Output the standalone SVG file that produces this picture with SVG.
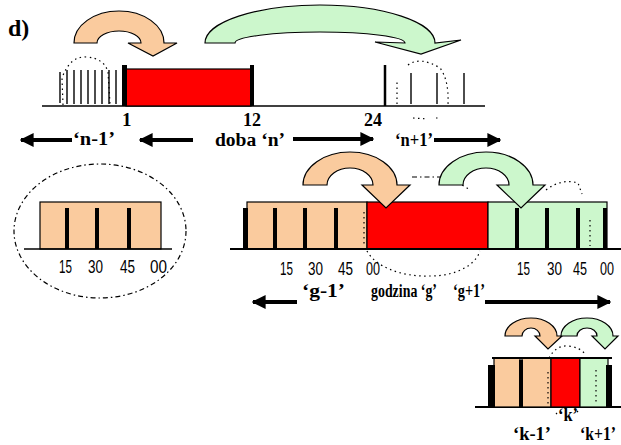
<svg xmlns="http://www.w3.org/2000/svg" width="621" height="445" viewBox="0 0 621 445">
<defs>
<style>
.or{fill:#FACB9E;stroke:#000;stroke-width:1.2}
.gr{fill:#CCF7CC;stroke:#000;stroke-width:1.2}
.rd{fill:#FF0000;stroke:#000;stroke-width:1.2}
.bk{fill:#000}
.ln{stroke:#000;stroke-width:1.5;fill:none}
.tk{stroke:#000;stroke-width:1.4}
.dot{stroke:#000;stroke-width:1.2;fill:none;stroke-dasharray:1.5,3.5}
.dd{stroke:#000;stroke-width:1.2;fill:none;stroke-dasharray:5,3,1.5,3}
.ar{stroke:#000;stroke-width:4;fill:none}
.t{font-family:"Liberation Serif","Times New Roman",serif;font-weight:bold;font-size:18px;fill:#000}
.n{font-family:"Liberation Sans Narrow","Liberation Sans",Arial,sans-serif;font-size:19px;fill:#000}
</style>
<marker id="ah" viewBox="0 0 10 10" refX="9" refY="5" markerWidth="14" markerHeight="14" markerUnits="userSpaceOnUse" orient="auto"><path d="M0,0 L10,5 L0,10 Z" fill="#000"/></marker>
</defs>
<text class="t" x="8" y="36" style="font-size:24px">d)</text>
<g id="top-timeline">
<line class="ln" x1="42" y1="106" x2="485" y2="106"/>
<rect class="rd" x="126" y="69" width="125" height="37"/>
<rect class="bk" x="122" y="65" width="5" height="41"/>
<rect class="bk" x="250" y="65" width="4" height="41"/>
<g class="tk">
<line x1="60" y1="72" x2="60" y2="103"/><line x1="67" y1="70" x2="67" y2="104"/><line x1="74" y1="70" x2="74" y2="104"/><line x1="81" y1="70" x2="81" y2="104"/><line x1="88" y1="70" x2="88" y2="104"/><line x1="95" y1="70" x2="95" y2="104"/><line x1="102" y1="70" x2="102" y2="104"/><line x1="109" y1="70" x2="109" y2="104"/><line x1="116" y1="70" x2="116" y2="104"/>
</g>
<line x1="385" y1="65" x2="385" y2="106" stroke="#000" stroke-width="2.5"/>
<g class="tk"><line x1="411" y1="73" x2="411" y2="104"/><line x1="437" y1="73" x2="437" y2="104"/><line x1="464" y1="73" x2="464" y2="104"/></g>
<path class="dot" d="M63,105 L62,78 Q70,56 86,57 Q104,58 108,72 L110,104"/>
<path class="dot" d="M397,104 L397,82 M408,65 Q420,56 440,68 Q449,80 448,104 M413,118 L428,119 M436,118 L438,118"/>
<text class="t" x="122" y="126" style="font-size:19px">1</text>
<text class="t" x="243" y="126">12</text>
<text class="t" x="364" y="126">24</text>
</g>
<g id="top-arrows">
<path class="or" d="M74,43 A45,32 0 0 1 164,43 L177,43 L153,56 L128,43 L141,43 A22,12 0 0 0 97,43 Z"/>
<path class="gr" d="M205,43 A115,38 0 0 1 435,43 L461,40 L421,54 L375,42 L405,43 A85,11 0 0 0 235,43 Z"/>
</g>
<g id="connectors">
<line class="ar" x1="72" y1="140" x2="21" y2="140" marker-end="url(#ah)"/>
<line class="ar" x1="193" y1="140" x2="140" y2="140" marker-end="url(#ah)"/>
<line class="ar" x1="293" y1="139" x2="373" y2="139" marker-end="url(#ah)"/>
<line class="ar" x1="434" y1="140" x2="500" y2="140" marker-end="url(#ah)"/>
<line class="ar" x1="297" y1="302" x2="253" y2="302" marker-end="url(#ah)"/>
<line class="ar" x1="485" y1="302" x2="610" y2="302" marker-end="url(#ah)"/>
</g>
<g id="day-labels">
<text class="t" x="73" y="145" textLength="42" lengthAdjust="spacingAndGlyphs">‘n-1’</text>
<text class="t" x="215" y="146" textLength="70" lengthAdjust="spacingAndGlyphs">doba ‘n’</text>
<text class="t" x="395" y="146" textLength="38" lengthAdjust="spacingAndGlyphs">‘n+1’</text>
</g>
<g id="zoom-hour">
<ellipse class="dd" cx="100" cy="231" rx="86" ry="67"/>
<rect class="or" x="40" y="202" width="121" height="47"/>
<rect class="bk" x="65" y="208" width="4" height="41"/>
<rect class="bk" x="95" y="208" width="4" height="41"/>
<rect class="bk" x="127" y="208" width="4" height="41"/>
<line class="ln" x1="24" y1="249" x2="172" y2="249"/>
<text class="n" x="59" y="273" textLength="13" lengthAdjust="spacingAndGlyphs">15</text>
<text class="n" x="88" y="273" textLength="15" lengthAdjust="spacingAndGlyphs">30</text>
<text class="n" x="120" y="273" textLength="15" lengthAdjust="spacingAndGlyphs">45</text>
<text class="n" x="150" y="273" textLength="17" lengthAdjust="spacingAndGlyphs">00</text>
</g>
<g id="hour-timeline">
<rect class="or" x="247" y="202" width="120" height="47"/>
<rect class="rd" x="367" y="202" width="121" height="47"/>
<rect class="gr" x="488" y="202" width="119" height="47"/>
<rect class="bk" x="243" y="208" width="5" height="41"/>
<rect class="bk" x="273" y="208" width="4" height="41"/>
<rect class="bk" x="303" y="208" width="4" height="41"/>
<rect class="bk" x="334" y="208" width="4" height="41"/>
<rect class="bk" x="515" y="208" width="4" height="41"/>
<rect class="bk" x="545" y="208" width="4" height="41"/>
<rect class="bk" x="576" y="208" width="4" height="41"/>
<rect class="bk" x="603" y="208" width="4" height="41"/>
<line x1="230" y1="249" x2="621" y2="249" stroke="#000" stroke-width="2"/>
<path class="dot" d="M364,212 L364,246 M590,220 L590,246"/>
<path class="dot" d="M367,251 C375,266 400,277 430,276 C455,276 475,266 480,251"/>
<path class="dd" d="M412,177 L446,177"/>
<path class="dot" d="M448,180 Q462,184 470,190 M546,190 Q562,178 578,183 L582,194"/>
<text class="n" x="280" y="275" textLength="13" lengthAdjust="spacingAndGlyphs">15</text>
<text class="n" x="308" y="275" textLength="15" lengthAdjust="spacingAndGlyphs">30</text>
<text class="n" x="338" y="275" textLength="15" lengthAdjust="spacingAndGlyphs">45</text>
<text class="n" x="366" y="275" textLength="14" lengthAdjust="spacingAndGlyphs">00</text>
<text class="n" x="517" y="275" textLength="13" lengthAdjust="spacingAndGlyphs">15</text>
<text class="n" x="547" y="275" textLength="15" lengthAdjust="spacingAndGlyphs">30</text>
<text class="n" x="573" y="275" textLength="14" lengthAdjust="spacingAndGlyphs">45</text>
<text class="n" x="600" y="275" textLength="14" lengthAdjust="spacingAndGlyphs">00</text>
<path class="or" d="M303,185 A47,33 0 0 1 397,185 L410,185 L386,208 L362,185 L373,185 A23,17 0 0 0 327,185 Z"/>
<path class="gr" d="M439,185 A47,33 0 0 1 533,185 L545,185 L521,208 L497,185 L509,185 A23,17 0 0 0 463,185 Z"/>
<text class="t" x="302" y="297" textLength="43" lengthAdjust="spacingAndGlyphs">‘g-1’</text>
<text class="t" x="371" y="297" textLength="66" lengthAdjust="spacingAndGlyphs">godzina ‘g’</text>
<text class="t" x="453" y="297" textLength="32" lengthAdjust="spacingAndGlyphs">‘g+1’</text>
</g>
<g id="minute-timeline">
<line x1="475" y1="407" x2="621" y2="407" stroke="#000" stroke-width="1.8"/>
<rect class="or" x="494" y="358" width="26" height="49"/>
<rect class="or" x="522" y="358" width="29" height="49"/>
<rect class="rd" x="551" y="358" width="29" height="49"/>
<rect class="gr" x="580" y="358" width="28" height="49"/>
<rect class="bk" x="488" y="365" width="7" height="42"/>
<rect class="bk" x="519" y="360" width="4" height="47"/>
<rect class="bk" x="606" y="365" width="6" height="42"/>
<line x1="492" y1="358" x2="612" y2="358" stroke="#000" stroke-width="2"/>
<path class="dot" d="M548,372 L548,405 M596,370 L596,405 M549,358 Q556,345 568,346 Q580,347 586,355 M556,413 L559,416 M577,411 L580,414"/>
<path class="or" d="M505,336 A26,18 0 0 1 557,336 L562,336 L548,349 L535,336 L540,336 A9,8 0 0 0 522,336 Z"/>
<path class="gr" d="M561,336 A26,18 0 0 1 613,336 L618,336 L605,349 L592,336 L597,336 A10,8 0 0 0 577,336 Z"/>
<text class="t" x="558" y="421" textLength="20" lengthAdjust="spacingAndGlyphs">‘k’</text>
<text class="t" x="513" y="440" textLength="38" lengthAdjust="spacingAndGlyphs">‘k-1’</text>
<text class="t" x="580" y="440" textLength="36" lengthAdjust="spacingAndGlyphs">‘k+1’</text>
</g>
</svg>
